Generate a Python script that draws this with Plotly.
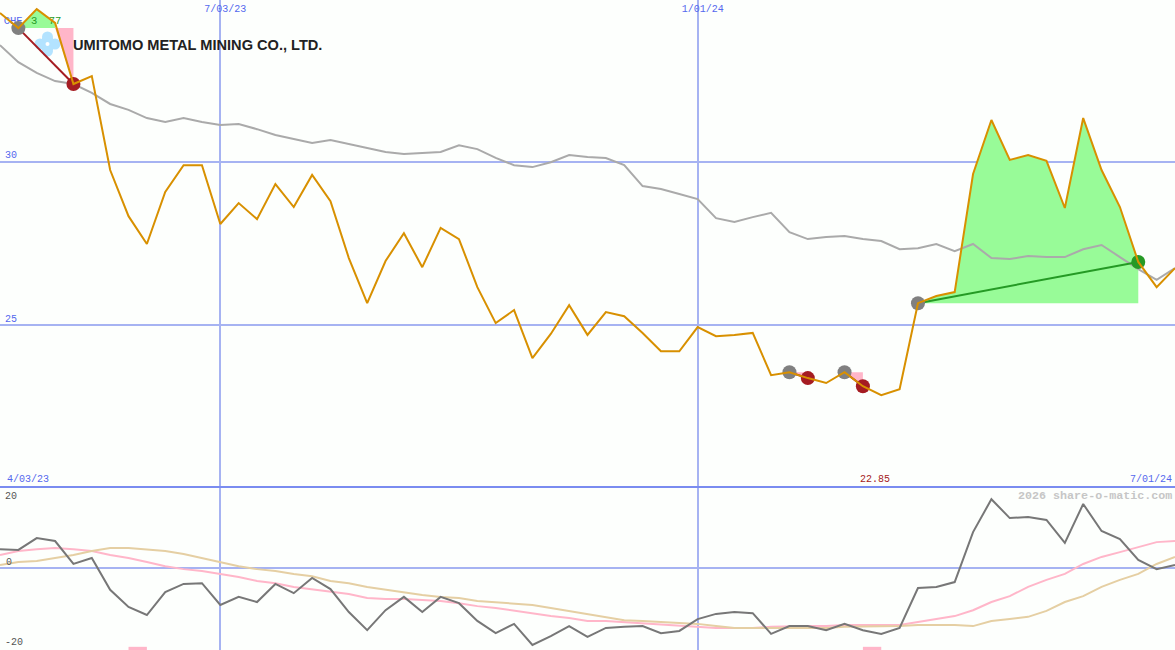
from datetime import date, timedelta
import plotly.graph_objects as go
from plotly.subplots import make_subplots

start_date = date(2023, 4, 10)
week_count = 65
price = [
    34.54, 34.08, 34.66, 34.24, 32.37, 32.61, 29.74, 28.33, 27.48, 29.07,
    29.89, 29.89, 28.09, 28.73, 28.24, 29.31, 28.61, 29.59, 28.79, 27.05,
    25.67, 26.96, 27.81, 26.77, 27.97, 27.63, 26.16, 25.06, 25.46, 23.99,
    24.73, 25.61, 24.70, 25.40, 25.27, 24.76, 24.20, 24.20, 24.94, 24.66,
    24.70, 24.76, 23.47, 23.56, 23.38, 23.23, 23.56, 23.13, 22.86, 23.04,
    25.67, 25.89, 26.01, 29.62, 31.27, 30.05, 30.20, 30.02, 28.58, 31.33,
    29.74, 28.61, 26.93, 26.16, 26.74,
]
moving_avg = [
    33.56, 33.04, 32.71, 32.46, 32.37, 32.10, 31.76, 31.58, 31.33, 31.21,
    31.33, 31.21, 31.12, 31.15, 30.99, 30.81, 30.69, 30.57, 30.66, 30.54,
    30.41, 30.29, 30.23, 30.26, 30.29, 30.50, 30.38, 30.11, 29.89, 29.83,
    29.98, 30.20, 30.14, 30.11, 29.89, 29.25, 29.16, 29.01, 28.85, 28.27,
    28.15, 28.30, 28.43, 27.84, 27.63, 27.69, 27.72, 27.63, 27.57, 27.32,
    27.35, 27.48, 27.26, 27.48, 27.05, 27.02, 27.11, 27.08, 27.08, 27.32,
    27.45, 27.08, 26.71, 26.38, 26.74,
]
oscillator = [
    5.1, 4.9, 8.1, 7.3, 1.1, 2.7, -5.9, -10.5, -12.7, -6.5,
    -4.3, -4.1, -10.0, -7.8, -9.2, -4.3, -6.8, -2.7, -5.7, -11.9,
    -16.8, -11.4, -7.8, -11.9, -7.8, -9.5, -14.3, -17.6, -15.1, -20.8,
    -18.4, -15.7, -18.6, -16.2, -15.9, -15.7, -17.6, -17.0, -13.8, -12.4,
    -11.9, -12.2, -17.8, -15.7, -15.7, -16.8, -15.1, -16.8, -17.8, -16.2,
    -5.4, -5.1, -3.8, 9.7, 18.6, 13.5, 13.8, 13.0, 6.8, 17.3,
    10.0, 7.8, 2.2, -0.3, 0.8,
]
osc_fast = [
    3.5, 4.6, 5.1, 5.4, 5.1, 4.6, 3.5, 2.7, 1.6, 0.5,
    -0.3, -0.8, -1.6, -2.4, -3.5, -4.1, -5.1, -5.7, -6.2, -7.0,
    -8.1, -8.4, -8.4, -8.6, -8.9, -9.5, -10.3, -10.8, -11.6, -12.2,
    -13.0, -13.5, -14.3, -14.3, -14.6, -14.9, -15.4, -15.7, -15.9, -16.2,
    -16.2, -16.2, -15.9, -15.7, -15.7, -15.7, -15.4, -15.4, -15.4, -15.4,
    -14.6, -13.8, -13.0, -11.4, -9.2, -7.6, -5.1, -3.2, -1.6, 1.1,
    3.0, 4.3, 5.7, 7.0, 7.3,
]
osc_slow = [
    0.8, 1.6, 1.9, 2.7, 3.5, 4.6, 5.4, 5.4, 5.1, 4.6,
    3.8, 2.7, 1.4, 0.5, -0.3, -0.8, -1.6, -2.2, -3.5, -4.1,
    -5.1, -5.9, -6.5, -7.3, -7.8, -8.1, -8.9, -9.2, -9.5, -10.0,
    -10.8, -11.6, -12.4, -13.2, -14.1, -14.3, -14.6, -14.9, -15.1, -15.7,
    -16.2, -16.2, -16.2, -16.2, -16.2, -16.2, -15.9, -15.9, -15.7, -15.7,
    -15.4, -15.4, -15.4, -15.7, -14.3, -13.8, -13.2, -11.6, -9.2, -7.6,
    -5.1, -3.2, -1.6, 1.1, 3.0,
]
trades = [(1, 4), (43, 44), (46, 47), (50, 62)]
signal_weeks = [7, 47]
signal_low = -22.16
signal_high = -21.3

price_ticks = [25, 30]
date_ticks = [date(2023, 7, 3), date(2024, 1, 1)]
date_tick_text = ["7/03/23", "1/01/24"]
company = "UMITOMO METAL MINING CO., LTD."

BG = "#fdfffd"
GRID = "#a6b3f2"
BLUE = "#5468ee"
ORANGE = "#d89000"
GAIN = "#98fb98"
LOSS = "#ffb6c9"
DARKGREEN = "#259a25"
DARKRED = "#a51c22"
MONO = "Liberation Mono"
W, H = 1175, 650
SPLIT = 487

weeks = [start_date + timedelta(days=7 * i) for i in range(week_count)]


def at(fi):
    return start_date + timedelta(days=7 * fi)


def fill_polys(a, b):
    level = price[a]
    polys = []
    cur_sign = None
    cur = []
    for i in range(a, b + 1):
        p = price[i]
        sign = p >= level
        if cur_sign is not None and sign != cur_sign:
            prev = price[i - 1]
            t = (level - prev) / (p - prev)
            cross = i - 1 + t
            cur.append((cross, level))
            polys.append((cur_sign, cur))
            cur = [(cross, level)]
        cur.append((i, p))
        cur_sign = sign
    cur.append((b, level))
    polys.append((cur_sign, cur))
    return polys


fig = make_subplots(rows=2, cols=1, shared_xaxes=True, vertical_spacing=0,
                    row_heights=[SPLIT / H, 1 - SPLIT / H])

for a, b in trades:
    for up, poly in fill_polys(a, b):
        pts = poly + [poly[0]]
        fig.add_trace(go.Scatter(
            x=[at(q[0]) for q in pts], y=[q[1] for q in pts], mode="lines",
            fill="toself", fillcolor=GAIN if up else LOSS, line=dict(width=0),
            hoverinfo="skip", showlegend=False), row=1, col=1)

for label, wk, val, color in [("CHE", 0.82, 34.29, BLUE), ("3", 1.87, 34.29, DARKGREEN),
                              ("77", 3.05, 34.29, DARKGREEN)]:
    fig.add_trace(go.Scatter(x=[at(wk)], y=[val], mode="text", text=[label],
                             textfont=dict(family=MONO, size=10.5, color=color),
                             hoverinfo="skip", showlegend=False), row=1, col=1)

fig.add_trace(go.Scatter(x=weeks, y=moving_avg, mode="lines",
                         line=dict(color="#aaaaaa", width=2), showlegend=False), row=1, col=1)

for a, b in trades:
    won = price[b] > price[a]
    col = DARKGREEN if won else DARKRED
    fig.add_trace(go.Scatter(x=[weeks[a], weeks[b]], y=[price[a], price[b]], mode="lines",
                             line=dict(color=col, width=2), showlegend=False), row=1, col=1)
    fig.add_trace(go.Scatter(x=[weeks[a]], y=[price[a]], mode="markers",
                             marker=dict(color="#808080", size=14), showlegend=False), row=1, col=1)
    fig.add_trace(go.Scatter(x=[weeks[b]], y=[price[b]], mode="markers",
                             marker=dict(color=col, size=14), showlegend=False), row=1, col=1)

fig.add_trace(go.Scatter(x=weeks, y=price, mode="lines",
                         line=dict(color=ORANGE, width=2), showlegend=False), row=1, col=1)

fig.add_trace(go.Bar(x=[weeks[i] for i in signal_weeks], y=[signal_high - signal_low] * len(signal_weeks),
                     base=signal_low, width=7 * 86400000, offset=0,
                     marker=dict(color=LOSS, line=dict(width=0)), showlegend=False), row=2, col=1)
fig.add_trace(go.Scatter(x=weeks, y=osc_fast, mode="lines",
                         line=dict(color="#ffb6c9", width=2), showlegend=False), row=2, col=1)
fig.add_trace(go.Scatter(x=weeks, y=osc_slow, mode="lines",
                         line=dict(color="#e5cfa3", width=2), showlegend=False), row=2, col=1)
fig.add_trace(go.Scatter(x=weeks, y=oscillator, mode="lines",
                         line=dict(color="#777777", width=2), showlegend=False), row=2, col=1)


def main_x(px):
    return px / W


def main_y(py):
    return (SPLIT - py) / SPLIT


def paper_y(py):
    return (H - py) / H


shapes = []


def rect(x0, y0, x1, y1, color, kind="rect"):
    shapes.append(dict(type=kind, xref="x domain", yref="y domain", layer="below",
                       x0=main_x(x0), x1=main_x(x1), y0=main_y(y1), y1=main_y(y0),
                       fillcolor=color, line=dict(width=0)))


rect(0, 0, W, 16, BG)
rect(75, 35, 326, 53, BG)
for cx, cy in [(40, 44), (55, 44), (47.5, 37), (47.5, 51)]:
    rect(cx - 5.5, cy - 5.5, cx + 5.5, cy + 5.5, "#b3e3ff", "circle")
rect(42, 38, 53, 50, "#b3e3ff")
rect(45.5, 42, 49.5, 46, "#ffffff", "circle")
shapes.append(dict(type="line", xref="paper", yref="paper", layer="above", x0=0, x1=1,
                   y0=paper_y(SPLIT), y1=paper_y(SPLIT), line=dict(color="#7a8cf0", width=2)))


def note(px, py, text, color, anchor="left", size=10, family=MONO, bold=False):
    return dict(xref="paper", yref="paper", x=px / W, y=paper_y(py), text=f"<b>{text}</b>" if bold else text,
                showarrow=False, xanchor=anchor, yanchor="middle",
                font=dict(family=family, size=size, color=color), borderpad=0, borderwidth=0)


annotations = [
    note(73, 45, company, "#222222", size=14.6, family="Liberation Sans", bold=True),
    note(7, 479, "4/03/23", BLUE),
    note(875, 479, "22.85", DARKRED, anchor="center"),
    note(1172, 479, "7/01/24", BLUE, anchor="right"),
    note(1172, 496, "2026 share-o-matic.com", "#c6c6c6", anchor="right", size=11.7, bold=True),
    note(5, 496, "20", "#555555"),
    note(6, 562, "0", "#555555"),
    note(5, 642, "-20", "#555555"),
]

fig.update_layout(
    width=W, height=H, margin=dict(l=0, r=0, t=0, b=0), paper_bgcolor=BG, plot_bgcolor=BG,
    showlegend=False, shapes=shapes, annotations=annotations, barmode="overlay", hovermode=False,
)
rng = [start_date, start_date + timedelta(days=448.3)]
fig.update_xaxes(range=rng, tickvals=date_ticks, showgrid=True, gridcolor=GRID, gridwidth=2,
                 zeroline=False, showline=False, ticks="")
fig.update_xaxes(row=1, col=1, side="top", ticktext=date_tick_text, showticklabels=True,
                 ticklabelposition="inside", ticklabelshift=5, ticklabelstandoff=2,
                 tickfont=dict(family=MONO, size=10, color=BLUE))
fig.update_xaxes(row=2, col=1, showticklabels=False)
fig.update_yaxes(row=1, col=1, range=[20.05, 34.939], tickvals=price_ticks, showgrid=True,
                 gridcolor=GRID, gridwidth=2, zeroline=False, showline=False, ticks="",
                 ticklabelposition="inside top", ticklabelstandoff=2,
                 tickfont=dict(family=MONO, size=10, color=BLUE))
fig.update_yaxes(row=2, col=1, range=[signal_low, 21.9], tickvals=[0], showticklabels=False,
                 showgrid=True, gridcolor=GRID, gridwidth=2, zeroline=False, showline=False, ticks="")

fig.write_html("out.html", config={"displayModeBar": False},
               post_script="document.body.style.margin='0';document.documentElement.style.background='#fdfffd';")
